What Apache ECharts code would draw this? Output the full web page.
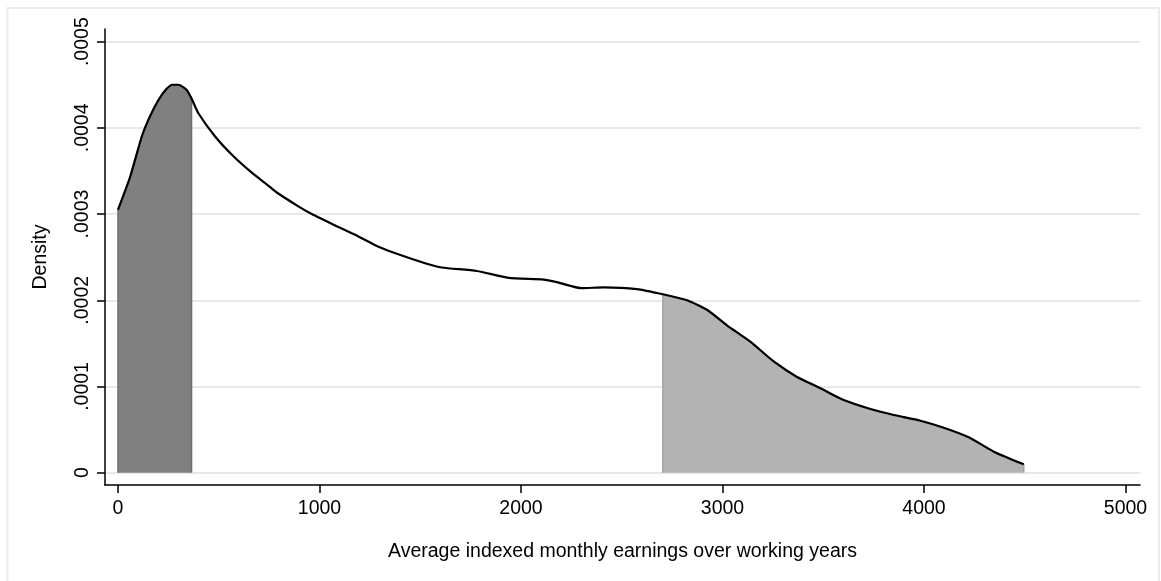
<!DOCTYPE html>
<html>
<head>
<meta charset="utf-8">
<script src="https://cdn.jsdelivr.net/npm/echarts@6/dist/echarts.min.js"></script>
<style>
  html, body { margin: 0; padding: 0; background: #fff; }
  #main { width: 1161px; height: 581px; }
</style>
</head>
<body>
<div id="main"></div>
<script>
// kernel density of AIME
const earnings = [0, 60, 118, 150, 200, 240, 270, 300, 341, 365, 399, 482, 573, 664, 746, 788,
  895, 962, 1094, 1193, 1293, 1359, 1524, 1607, 1781, 1938, 2112, 2178, 2302, 2410, 2575,
  2704, 2824, 2923, 3022, 3138, 3254, 3370, 3486, 3601, 3734, 3850, 3982, 4098, 4222, 4346, 4495];
const density = [0.000305, 0.000343, 0.000390, 0.000409, 0.000432, 0.000445, 0.000450, 0.000450,
  0.000444, 0.000434, 0.000417, 0.000390, 0.000367, 0.000348, 0.000333, 0.000325,
  0.000309, 0.000300, 0.000285, 0.000274, 0.000262, 0.000256, 0.000243, 0.000238, 0.000234,
  0.000226, 0.000224, 0.000221, 0.000214, 0.000215, 0.000213,
  0.000207, 0.000200, 0.000189, 0.000171, 0.000152, 0.000129, 0.000111, 0.0000979, 0.0000843,
  0.0000739, 0.0000669, 0.0000603, 0.0000522, 0.0000411, 0.0000244, 0.0000097];
const lowBand = [0, 365];
const highBand = [2704, 4495];
const xTicks = [0, 1000, 2000, 3000, 4000, 5000];
const yTicks = [0, 0.0001, 0.0002, 0.0003, 0.0004, 0.0005];
const yTickLabels = ["0", ".0001", ".0002", ".0003", ".0004", ".0005"];

const curve = earnings.map((x, i) => [x, density[i]]);

function band(range) {
  const pts = curve.filter(p => p[0] >= range[0] && p[0] <= range[1]);
  return [[range[0], 0]].concat(pts, [[range[1], 0]]);
}

var myChart = echarts.init(document.getElementById("main"));
const font = "Liberation Sans, Arial, sans-serif";

option = {
  animation: false,
  backgroundColor: "#fff",
  graphic: [
    {
      type: "rect",
      shape: { x: 7.5, y: 8, width: 1151.5, height: 600 },
      style: { fill: "none", stroke: "#ebebeb", lineWidth: 2 },
      silent: true,
    },
  ],
  grid: { left: 105, right: 21, top: 29, bottom: 96 },
  xAxis: {
    type: "value",
    min: -64.5,
    max: 5072,
    name: "Average indexed monthly earnings over working years",
    nameLocation: "middle",
    nameGap: 57,
    nameTextStyle: { fontFamily: font, fontSize: 19.5, color: "#000" },
    axisLine: { onZero: false, lineStyle: { color: "#000", width: 1.5 } },
    axisTick: { show: true, length: 8, customValues: xTicks, lineStyle: { color: "#000", width: 1.5 } },
    axisLabel: {
      customValues: xTicks,
      margin: 14,
      fontFamily: font,
      fontSize: 19.5,
      color: "#000",
      formatter: v => String(v),
    },
    splitLine: { show: false },
  },
  yAxis: {
    type: "value",
    min: -0.0000143,
    max: 0.0005147,
    name: "Density",
    nameLocation: "middle",
    nameGap: 54,
    nameTextStyle: { fontFamily: font, fontSize: 19.5, color: "#000" },
    axisLine: { show: true, onZero: false, lineStyle: { color: "#000", width: 1.5 } },
    axisTick: { show: true, length: 8, customValues: yTicks, lineStyle: { color: "#000", width: 1.5 } },
    axisLabel: {
      customValues: yTicks,
      rotate: 90,
      margin: 12,
      fontFamily: font,
      fontSize: 19.5,
      color: "#000",
      formatter: v => yTickLabels[yTicks.findIndex(t => Math.abs(t - v) < 1e-9)] ?? "",
    },
    splitLine: { show: true, lineStyle: { color: "#e8e8e8", width: 2 } },
  },
  series: [
    {
      type: "line",
      name: "low",
      data: band(lowBand),
      showSymbol: false,
      lineStyle: { color: "#6e6e6e", width: 1.5 },
      areaStyle: { color: "#808080", opacity: 1 },
      z: 2,
    },
    {
      type: "line",
      name: "high",
      data: band(highBand),
      showSymbol: false,
      lineStyle: { color: "#a2a2a2", width: 1.5 },
      areaStyle: { color: "#b3b3b3", opacity: 1 },
      z: 2,
    },
    {
      type: "line",
      name: "density",
      data: curve,
      showSymbol: false,
      smooth: 0.2,
      lineStyle: { color: "#000", width: 2.2 },
      z: 3,
    },
  ],
};
myChart.setOption(option);
</script>
</body>
</html>
